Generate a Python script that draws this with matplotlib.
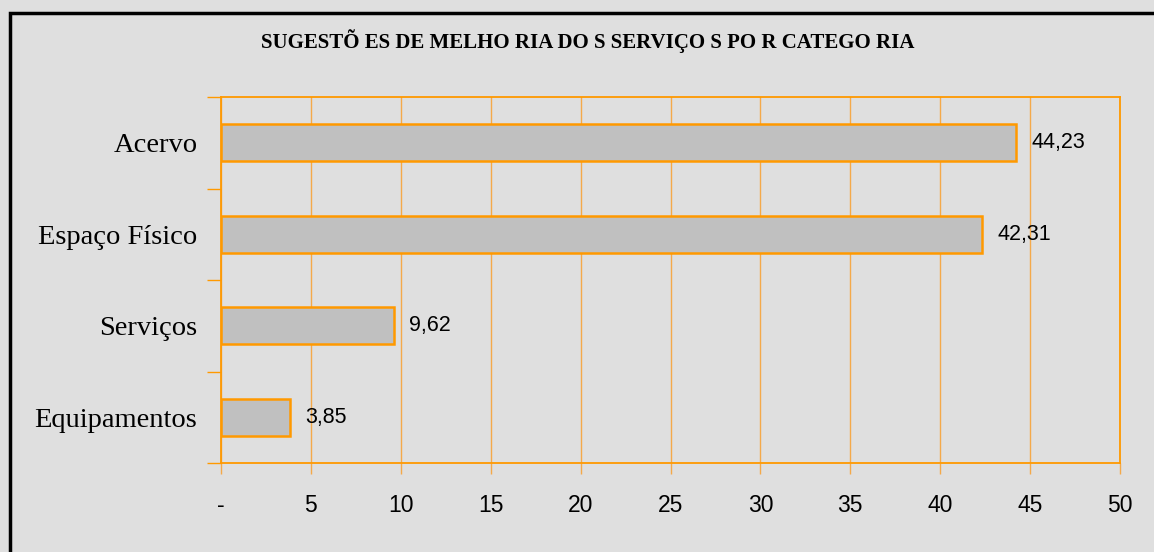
import matplotlib
matplotlib.use("Agg")
import matplotlib.pyplot as plt
from matplotlib.patches import Rectangle
from matplotlib.ticker import FuncFormatter

categories = ["Acervo", "Espaço Físico", "Serviços", "Equipamentos"]
values = [44.23, 42.31, 9.62, 3.85]
value_labels = ["44,23", "42,31", "9,62", "3,85"]
x_ticks = [0, 5, 10, 15, 20, 25, 30, 35, 40, 45, 50]
title = "SUGESTÕ ES DE MELHO RIA DO S SERVIÇO S PO R CATEGO RIA"

W, H = 1154, 552
fig = plt.figure(figsize=(W / 100, H / 100), dpi=100)
fig.patch.set_facecolor("#DFDFDF")

# outer black frame (right/bottom edges fall outside the image)
fig.patches.append(Rectangle((9.5 / W, -0.1), 1.2, 1 - 12.5 / H + 0.1,
                             transform=fig.transFigure, fill=False,
                             edgecolor="black", linewidth=2.5))

ax = fig.add_axes([221 / W, 1 - 463 / H, (1120 - 221) / W, (463 - 97) / H])
ax.set_facecolor("#DFDFDF")

orange = "#FF9900"
grid_orange = "#F4A94A"

ypos = list(range(len(categories)))
ax.barh(ypos, values, height=0.4, color="#C0C0C0", edgecolor=orange,
        linewidth=1.8, zorder=3)

for y, v, lab in zip(ypos, values, value_labels):
    ax.annotate(lab, (v, y), xytext=(11, 0), textcoords="offset points",
                ha="left", va="center", fontsize=15.5,
                family="Liberation Sans", color="black", zorder=4)

ax.set_xlim(0, 50)
ax.set_ylim(len(categories) - 0.5, -0.5)
ax.set_xticks(x_ticks)
ax.xaxis.set_major_formatter(FuncFormatter(lambda v, p: "-" if v == 0 else f"{v:g}"))
ax.set_yticks(ypos)
ax.set_yticklabels(categories)
ax.set_yticks([y - 0.5 for y in ypos] + [len(categories) - 0.5], minor=True)

ax.tick_params(axis="y", which="major", length=0, pad=17, labelsize=20.5)
ax.tick_params(axis="y", which="minor", length=10, width=1, color=orange)
ax.tick_params(axis="x", which="major", length=8, width=1, color=grid_orange,
               pad=14, labelsize=16.5)
for lab in ax.get_yticklabels():
    lab.set_family("Liberation Serif")
for lab in ax.get_xticklabels():
    lab.set_family("Liberation Sans")

ax.grid(axis="x", color=grid_orange, linewidth=1, zorder=1)
ax.set_axisbelow(True)
for side in ["left", "right", "top", "bottom"]:
    ax.spines[side].set_color(orange)
    ax.spines[side].set_linewidth(1.3)

fig.text(588 / W, 1 - 41 / H, title, ha="center", va="center",
         fontsize=15, fontweight="bold", family="Liberation Serif")

fig.savefig("out.png", dpi=100, facecolor=fig.get_facecolor())
